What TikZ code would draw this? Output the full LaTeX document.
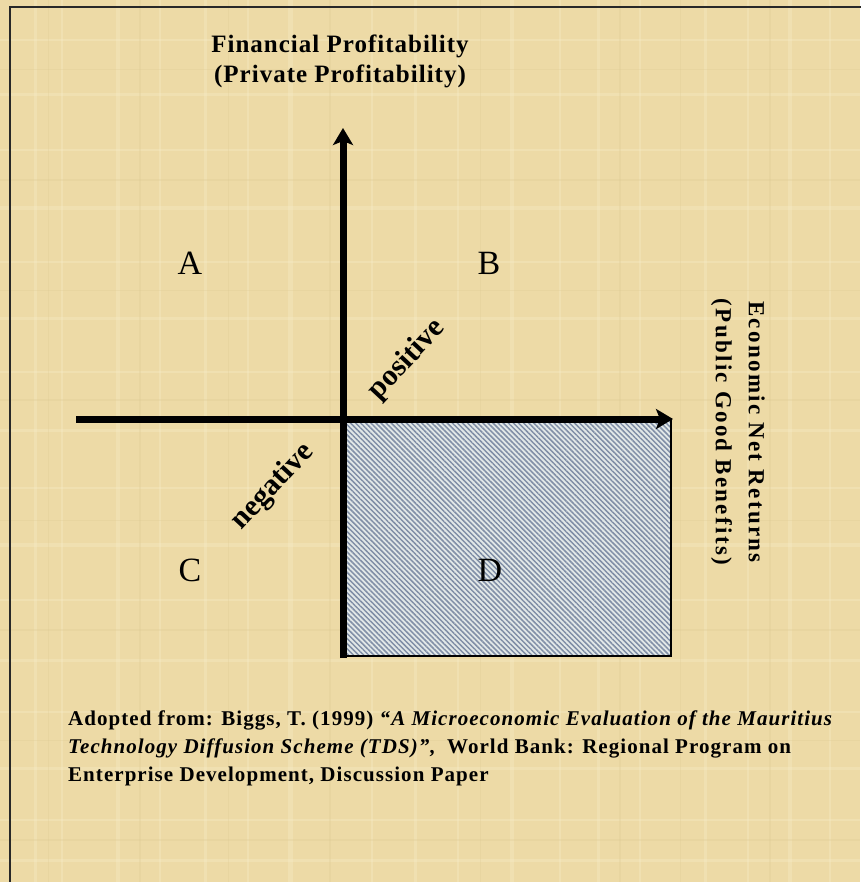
\documentclass[tikz,border=0pt]{standalone}
\usepackage{fontspec}
\setmainfont{Liberation Serif}
\usetikzlibrary{arrows.meta,patterns.meta}
\definecolor{papyrus}{RGB}{237,218,166}
\definecolor{papyruslight}{RGB}{248,236,200}
\definecolor{papyrusdark}{RGB}{222,202,148}
\definecolor{hatchline}{RGB}{128,142,166}
\definecolor{hatchbg}{RGB}{226,232,232}
\definecolor{framegray}{RGB}{40,40,40}
\tikzset{
  axis/.style={line width=7pt,-{Stealth[length=17pt,width=20pt,inset=4pt]}},
  quad/.style={font=\fontsize{34}{36}\selectfont},
  diag/.style={font=\bfseries\fontsize{30}{32}\selectfont, rotate=47},
  toplabel/.style={font=\bfseries\fontsize{25}{30}\selectfont\addfontfeature{LetterSpace=4}, align=center},
  sidelabel/.style={font=\bfseries\fontsize{23}{33}\selectfont\addfontfeature{LetterSpace=10}, align=center},
  cite/.style={anchor=west, font=\bfseries\fontsize{21}{24}\selectfont\addfontfeature{LetterSpace=5}, inner sep=0pt},
  texture/.style={line width=#1, draw=papyruslight, opacity=0.35},
  texturedark/.style={line width=#1, draw=papyrusdark, opacity=0.3}
}
\begin{document}
\begin{tikzpicture}[x=1pt,y=-1pt]
\useasboundingbox (0,0) rectangle (860,882);
\fill[papyrus] (0,0) rectangle (860,882);
% faint papyrus texture
\foreach \x/\w in {35/3,62/2,118/4,160/2,205/3,248/2,290/5,372/2,415/3,458/2,512/4,560/2,598/3,640/2,705/3,748/2,790/4,830/2}{
  \draw[texture=\w] (\x,0) -- (\x,882);
}
\foreach \y/\w in {40/2,95/3,150/2,208/4,262/2,318/3,372/2,430/3,488/2,545/4,600/2,660/3,712/2,768/3,820/2,860/3}{
  \draw[texture=\w] (0,\y) -- (860,\y);
}
\foreach \x/\w in {48/1,140/1.5,228/1,330/1.5,480/1,620/1.5,680/1,770/1.5}{
  \draw[texturedark=\w] (\x,0) -- (\x,882);
}
\foreach \y/\w in {70/1,180/1.5,290/1,400/1.5,520/1,630/1.5,740/1,840/1.5}{
  \draw[texturedark=\w] (0,\y) -- (860,\y);
}
% frame
\draw[framegray, line width=2pt] (10,900) -- (10,7) -- (880,7);
% hatched quadrant D
\coordinate (dtl) at (343,419);
\coordinate (dbr) at (671,656);
\fill[hatchbg] (dtl) rectangle (dbr);
\path[pattern={Lines[angle=-45,distance=3.6pt,line width=1.5pt]}, pattern color=hatchline] (dtl) rectangle (dbr);
\draw[black, line width=1.5pt] (dtl) rectangle (dbr);
% axes
\coordinate (ybot) at (343,658);
\coordinate (ytop) at (343,128);
\coordinate (xleft) at (76,419);
\coordinate (xright) at (673,419);
\draw[axis] (ybot) -- (ytop);
\draw[axis] (xleft) -- (xright);
% axis labels
\node[toplabel] (ylab) at (340,61) {Financial Profitability\\(Private Profitability)};
\node[sidelabel, rotate=-90] (xlab) at (738,432) {Economic Net Returns\\(Public Good Benefits)};
% quadrant letters
\node[quad] (qa) at (190,263) {A};
\node[quad] (qb) at (489,263) {B};
\node[quad] (qc) at (190,570) {C};
\node[quad] (qd) at (490,570) {D};
% diagonal words
\node[diag] (pos) at (407,360) {positive};
\node[diag] (neg) at (273,487) {negative};
% citation
\node[cite] (c1) at (68,720) {Adopted from: Biggs, T. (1999) \textit{“A Microeconomic Evaluation of the Mauritius}};
\node[cite] (c2) at (68,748) {\textit{Technology Diffusion Scheme (TDS)”,}\enspace World Bank: Regional Program on};
\node[cite] (c3) at (68,776) {Enterprise Development, Discussion Paper};
\end{tikzpicture}
\end{document}
